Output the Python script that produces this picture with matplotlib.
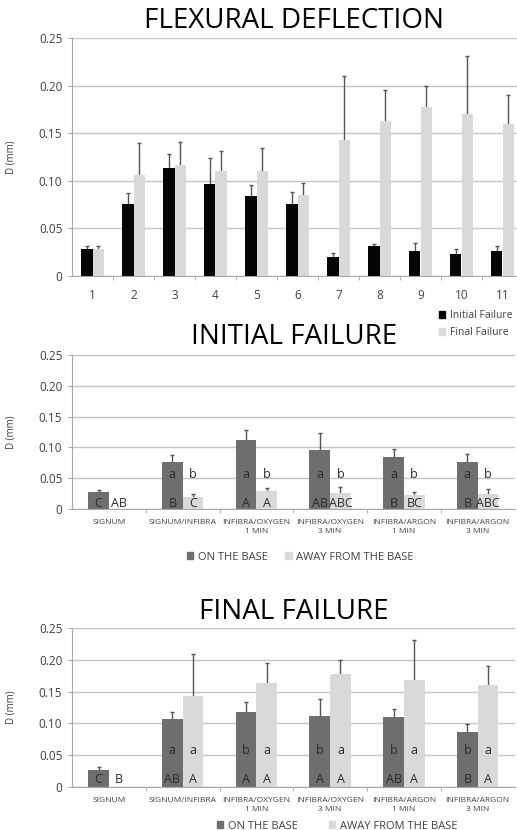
import matplotlib
matplotlib.use("Agg")
import matplotlib.pyplot as plt
from matplotlib.patches import Patch
import numpy as np

plt.rcParams.update({"font.family": ["Open Sans", "DejaVu Sans"], "font.size": 8})

W, H = 517, 830
BLACK, DARK, LIGHT = "#050505", "#6e6e6e", "#d9d9d9"
TXT, GRID, ERR = "#404040", "#c4c4c4", "#555555"

# ---- data: flexural deflection (mm), 11 groups
groups = [str(i) for i in range(1, 12)]
init_mean = [0.028, 0.076, 0.113, 0.097, 0.084, 0.076, 0.020, 0.031, 0.026, 0.023, 0.026]
init_sd = [0.003, 0.011, 0.015, 0.027, 0.012, 0.012, 0.004, 0.003, 0.009, 0.005, 0.006]
final_mean = [0.028, 0.106, 0.117, 0.110, 0.110, 0.085, 0.143, 0.163, 0.177, 0.170, 0.160]
final_sd = [0.003, 0.034, 0.024, 0.021, 0.024, 0.013, 0.067, 0.032, 0.023, 0.061, 0.030]

# ---- data: per-treatment panels
treatments = ["SIGNUM", "SIGNUM/INFIBRA", "INFIBRA/OXYGEN\n1 MIN", "INFIBRA/OXYGEN\n3 MIN",
              "INFIBRA/ARGON\n1 MIN", "INFIBRA/ARGON\n3 MIN"]

if_on = [0.028, 0.076, 0.112, 0.096, 0.084, 0.076]
if_on_sd = [0.003, 0.011, 0.016, 0.028, 0.013, 0.013]
if_away = [np.nan, 0.019, 0.030, 0.026, 0.023, 0.025]
if_away_sd = [np.nan, 0.005, 0.004, 0.010, 0.005, 0.007]
if_upper_on = ["C", "B", "A", "AB", "B", "B"]
if_upper_away = ["AB", "C", "A", "ABC", "BC", "ABC"]
if_lower_on = ["", "a", "a", "a", "a", "a"]
if_lower_away = ["", "b", "b", "b", "b", "b"]

ff_on = [0.027, 0.107, 0.118, 0.111, 0.110, 0.086]
ff_on_sd = [0.004, 0.011, 0.015, 0.027, 0.013, 0.013]
ff_away = [np.nan, 0.143, 0.163, 0.177, 0.169, 0.160]
ff_away_sd = [np.nan, 0.066, 0.032, 0.023, 0.062, 0.030]
ff_upper_on = ["C", "AB", "A", "A", "AB", "B"]
ff_upper_away = ["B", "A", "A", "A", "A", "A"]
ff_lower_on = ["", "a", "b", "b", "b", "b"]
ff_lower_away = ["", "a", "a", "a", "a", "a"]

fig = plt.figure(figsize=(W / 100, H / 100), dpi=100)


def px_axes(left, top, right, bottom):
    return fig.add_axes([left / W, 1 - bottom / H, (right - left) / W, (bottom - top) / H])


def style(ax, n, pad):
    ax.set_ylim(0, 0.25)
    ax.set_xlim(0.5, n + 0.5)
    ax.set_yticks([0, 0.05, 0.10, 0.15, 0.20, 0.25])
    ax.set_yticklabels(["0", "0.05", "0.10", "0.15", "0.20", "0.25"])
    ax.grid(axis="y", color=GRID, lw=1)
    ax.set_axisbelow(True)
    for s in ["top", "right"]:
        ax.spines[s].set_visible(False)
    for s in ["left", "bottom"]:
        ax.spines[s].set_color("#a8a8a8")
    ax.set_xticks(np.arange(1.5, n, 1.0), minor=True)
    ax.tick_params(axis="x", which="major", length=0, pad=pad, colors=TXT)
    ax.tick_params(axis="x", which="minor", length=3, color="#a8a8a8")
    ax.tick_params(axis="y", length=3, color="#a8a8a8", labelsize=8.5, labelcolor=TXT, pad=4)
    ax.set_ylabel("D (mm)", fontsize=7, color=TXT)


def bars(ax, x, mean, sd, color):
    ax.errorbar(x, mean, yerr=sd, fmt="none", ecolor=ERR, elinewidth=1,
                capsize=1.5, capthick=1, zorder=1)
    ax.bar(x, mean, width=0.28, color=color, zorder=2)


# ---- panel 1
ax1 = px_axes(72, 38, 523, 276)
x1 = np.arange(1, len(groups) + 1)
bars(ax1, x1 - 0.14, init_mean, init_sd, BLACK)
bars(ax1, x1 + 0.14, final_mean, final_sd, LIGHT)
style(ax1, len(groups), 9)
ax1.set_xticks(x1)
ax1.set_xticklabels(groups, fontsize=8.5)
ax1.yaxis.set_label_coords(17 / W, 1 - 157 / H, transform=fig.transFigure)
fig.text(294 / W, 1 - 21 / H, "FLEXURAL DEFLECTION", ha="center", va="center", fontsize=20)
fig.legend(handles=[Patch(color=BLACK, label="Initial Failure"),
                    Patch(color=LIGHT, label="Final Failure")],
           loc="upper left", bbox_to_anchor=(434 / W, 1 - 305 / H), frameon=False,
           fontsize=7.5, handlelength=0.6, handleheight=0.6, handletextpad=0.4,
           labelspacing=0.6, borderpad=0, labelcolor=TXT)


def treat_panel(top, bottom, title, title_y, title_fs, on, on_sd, away, away_sd,
                up_on, up_away, lo_on, lo_away, up_y, lo_y, leg_x, leg_y, colsp):
    ax = px_axes(72, top, 514.5, bottom)
    x = np.arange(1, len(treatments) + 1)
    bars(ax, x - 0.14, on, on_sd, DARK)
    bars(ax, x + 0.14, away, away_sd, LIGHT)
    style(ax, len(treatments), 7)
    ax.set_xticks(x)
    ax.set_xticklabels(treatments, fontsize=6, linespacing=1.5)
    ax.yaxis.set_label_coords(17 / W, 1 - (top + bottom) / 2 / H, transform=fig.transFigure)
    for i in range(len(treatments)):
        ax.text(x[i] - 0.14, up_y, up_on[i], ha="center", va="center", fontsize=9, color="#2a2a2a")
        ax.text(x[i] + 0.14, up_y, up_away[i], ha="center", va="center", fontsize=9, color="#2a2a2a")
        ax.text(x[i] - 0.14, lo_y, lo_on[i], ha="center", va="center", fontsize=9, color="#2a2a2a")
        ax.text(x[i] + 0.14, lo_y, lo_away[i], ha="center", va="center", fontsize=9, color="#2a2a2a")
    fig.text(294 / W, 1 - title_y / H, title, ha="center", va="center", fontsize=title_fs)
    fig.legend(handles=[Patch(color=DARK, label="ON THE BASE"),
                        Patch(color=LIGHT, label="AWAY FROM THE BASE")],
               loc="center left", bbox_to_anchor=(leg_x / W, 1 - leg_y / H), frameon=False,
               ncol=2, fontsize=8, handlelength=0.6, handleheight=0.6, handletextpad=0.4,
               columnspacing=colsp, borderpad=0, labelcolor=TXT)
    return ax


treat_panel(355, 509, "INITIAL FAILURE", 337, 20, if_on, if_on_sd, if_away, if_away_sd,
            if_upper_on, if_upper_away, if_lower_on, if_lower_away, 0.009, 0.056, 181, 557, 1.6)
treat_panel(628, 787, "FINAL FAILURE", 612, 20, ff_on, ff_on_sd, ff_away, ff_away_sd,
            ff_upper_on, ff_upper_away, ff_lower_on, ff_lower_away, 0.0125, 0.058, 211, 826, 2.8)

fig.savefig("out.png", dpi=100)
